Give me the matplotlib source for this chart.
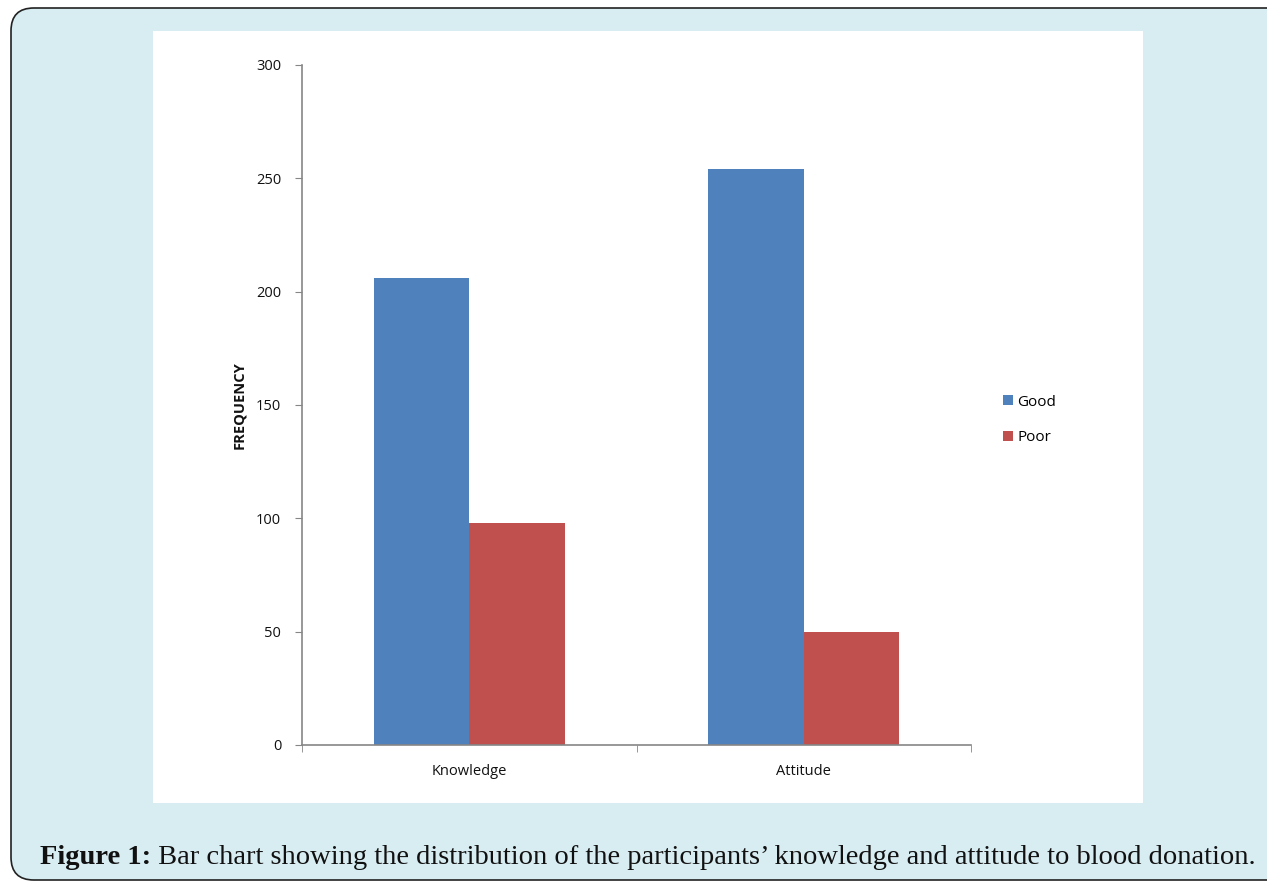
import matplotlib
matplotlib.use("Agg")
import matplotlib.pyplot as plt
from matplotlib.patches import FancyBboxPatch, Rectangle
import numpy as np

# data
categories = ["Knowledge", "Attitude"]
good = [206, 254]
poor = [98, 50]
series_names = ["Good", "Poor"]
y_ticks = [0, 50, 100, 150, 200, 250, 300]
caption_bold = "Figure 1:"
caption_rest = " Bar chart showing the distribution of the participants\u2019 knowledge and attitude to blood donation."

W, H = 1267, 883
BG = "#d8edf2"
BLUE = "#4f81bd"
RED = "#c0504d"
SPINE = "#868686"

fig = plt.figure(figsize=(W / 100, H / 100), dpi=100)
fig.patch.set_facecolor("white")

# outer rounded frame
frame = FancyBboxPatch((11 / W, 3 / H), 1.2, 1 - 11 / H,
                       boxstyle="round,pad=0,rounding_size=0.018",
                       transform=fig.transFigure, facecolor=BG,
                       edgecolor="#222222", linewidth=1.2, mutation_aspect=W / H,
                       zorder=-3)
fig.patches.append(frame)

# white panel behind the chart
panel = Rectangle((153 / W, 1 - 803 / H), (1143 - 153) / W, (803 - 31) / H,
                  transform=fig.transFigure, facecolor="white", edgecolor="none",
                  zorder=-2)
fig.patches.append(panel)

# axes box in pixel coords
x0, x1, ytop, ybot = 302, 971, 65, 745
ax = fig.add_axes([x0 / W, 1 - ybot / H, (x1 - x0) / W, (ybot - ytop) / H])
ax.set_facecolor("none")
ax.set_zorder(1)

x = np.arange(len(categories))
bw = 0.2855
ax.bar(x - bw / 2, good, bw, color=BLUE, label=series_names[0])
ax.bar(x + bw / 2, poor, bw, color=RED, label=series_names[1])

ax.set_xlim(-0.5, len(categories) - 0.5)
ax.set_ylim(0, 300)
ax.set_yticks(y_ticks)
ax.set_xticks(x)
ax.set_xticklabels(categories)
ax.set_xticks([-0.5, 0.5, 1.5], minor=True)

font = "Open Sans"
for lab in ax.get_yticklabels() + ax.get_xticklabels():
    lab.set_fontfamily(font)
    lab.set_fontsize(10.5)
    lab.set_color("#111111")

ax.tick_params(axis="x", which="major", length=0, pad=14)
ax.tick_params(axis="x", which="minor", length=5, color=SPINE, direction="out")
ax.tick_params(axis="y", length=5, color=SPINE, direction="out", pad=10)

for s in ["top", "right"]:
    ax.spines[s].set_visible(False)
for s in ["left", "bottom"]:
    ax.spines[s].set_color(SPINE)
    ax.spines[s].set_linewidth(1.2)

fig.text(239 / W, 1 - 405 / H, "FREQUENCY", rotation=90, ha="center", va="center",
         fontsize=10.5, fontweight="bold", family=font, color="#111111")

leg = ax.legend(loc="center left", bbox_to_anchor=(989 / W, 1 - 420 / H),
                bbox_transform=fig.transFigure, frameon=False,
                prop={"family": font, "size": 11}, handlelength=0.65,
                handleheight=0.65, handletextpad=0.3, labelspacing=1.35)

# caption
cap_size = 20.5
t1 = fig.text(40 / W, 1 - 857 / H, caption_bold, ha="left", va="center",
              fontsize=cap_size, fontweight="bold", family="Liberation Serif", color="#111111")
fig.canvas.draw()
bb = t1.get_window_extent()
fig.text(bb.x1 / W, 1 - 857 / H, caption_rest, ha="left", va="center",
         fontsize=cap_size, family="Liberation Serif", color="#111111")

fig.savefig("out.png", dpi=100, facecolor=fig.get_facecolor())
